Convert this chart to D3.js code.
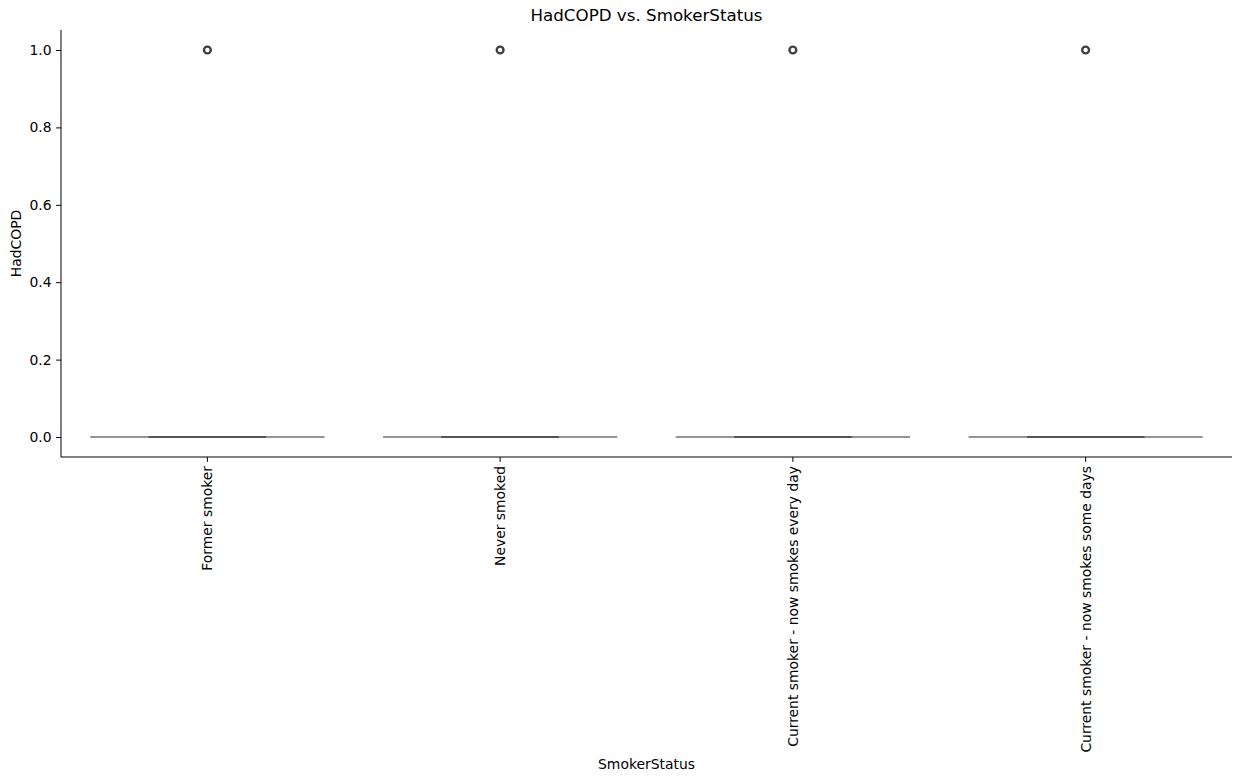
<!DOCTYPE html>
<html><head><meta charset="utf-8">
<script src="https://cdn.jsdelivr.net/npm/d3@7"></script>
<style>body{margin:0;background:#fff}svg{display:block}text{font-family:"DejaVu Sans",sans-serif;fill:#000}</style>
</head><body><svg id="c" width="1258" height="782"></svg>
<script>
const categories = ["Former smoker","Never smoked","Current smoker - now smokes every day","Current smoker - now smokes some days"];
const q1 = [0,0,0,0];
const median = [0,0,0,0];
const q3 = [0,0,0,0];
const whiskerLow = [0,0,0,0];
const whiskerHigh = [0,0,0,0];
const outliers = [[1],[1],[1],[1]];
const yTicks = [0.0,0.2,0.4,0.6,0.8,1.0];

const svg = d3.select("#c");
const m = {l:61, r:1232, t:30, b:457};
const x = d3.scaleBand().domain(categories).range([m.l, m.r]).paddingInner(0).paddingOuter(0);
const y = d3.scaleLinear().domain([-0.0517, 1.0517]).range([m.b, m.t]);
const gray = "#404040";
const bw = x.bandwidth()*0.8;

const data = categories.map((c,i)=>({c,q1:q1[i],med:median[i],q3:q3[i],lo:whiskerLow[i],hi:whiskerHigh[i],out:outliers[i]}));
const g = svg.append("g");
data.forEach(d=>{
  const cx = x(d.c)+x.bandwidth()/2;
  // box
  g.append("rect").attr("x",cx-bw/2).attr("width",bw).attr("y",y(d.q3)-0.8).attr("height",Math.max(1.6,y(d.q1)-y(d.q3)+1.6))
   .attr("fill","#7a7a7a").attr("stroke","none");
  // whiskers
  g.append("line").attr("x1",cx).attr("x2",cx).attr("y1",y(d.q3)).attr("y2",y(d.hi)).attr("stroke",gray).attr("stroke-width",1.5);
  g.append("line").attr("x1",cx).attr("x2",cx).attr("y1",y(d.q1)).attr("y2",y(d.lo)).attr("stroke",gray).attr("stroke-width",1.5);
  // caps
  [d.lo,d.hi].forEach(v=>g.append("line").attr("x1",cx-bw/4).attr("x2",cx+bw/4).attr("y1",y(v)).attr("y2",y(v)).attr("stroke","#5a5a5a").attr("stroke-width",1.8));
  // median
  g.append("line").attr("x1",cx-bw/4).attr("x2",cx+bw/4).attr("y1",y(d.med)).attr("y2",y(d.med)).attr("stroke","#555").attr("stroke-width",1.8);
  // outliers
  d.out.forEach(v=>g.append("circle").attr("cx",cx).attr("cy",y(v)).attr("r",3.4).attr("fill","#fff").attr("stroke",gray).attr("stroke-width",2.4));
});

// axes
const ya = d3.axisLeft(y).tickValues(yTicks).tickFormat(d3.format(".1f")).tickSizeOuter(0).tickSize(4.9).tickPadding(4.5);
const yg = svg.append("g").attr("transform",`translate(${m.l},0)`).call(ya);
yg.select(".domain").attr("d",`M0,${m.t}V${m.b}`);
yg.selectAll("text").style("font-size","13.9px").style("font-family","DejaVu Sans");
const xa = d3.axisBottom(x).tickSizeOuter(0).tickSize(4.9).tickPadding(4);
const xg = svg.append("g").attr("transform",`translate(0,${m.b})`).call(xa);
xg.select(".domain").attr("d",`M${m.l},0H${m.r}`);
xg.selectAll("text").style("font-size","13.9px").style("font-family","DejaVu Sans")
  .attr("transform","rotate(-90)").attr("text-anchor","end").attr("dy","0.35em").attr("x",-9).attr("y",0);
svg.selectAll(".domain, .tick line").attr("stroke","#000").attr("stroke-width",1);

svg.append("text").attr("x",(m.l+m.r)/2).attr("y",21).attr("text-anchor","middle").style("font-size","16.7px").text("HadCOPD vs. SmokerStatus");
svg.append("text").attr("x",(m.l+m.r)/2).attr("y",769).attr("text-anchor","middle").style("font-size","13.9px").text("SmokerStatus");
svg.append("text").attr("transform",`translate(21,${(m.t+m.b)/2}) rotate(-90)`).attr("text-anchor","middle").style("font-size","13.9px").text("HadCOPD");
</script></body></html>
